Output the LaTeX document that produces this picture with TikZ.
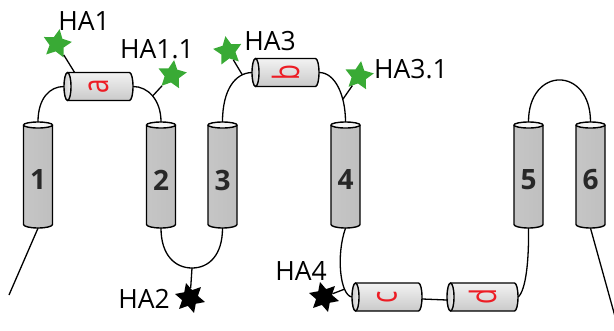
\documentclass[tikz,border=0pt]{standalone}
\usepackage{fontspec}
\usepackage{graphicx}
\setmainfont{Open Sans}
\usetikzlibrary{shapes.geometric}

\definecolor{hared}{RGB}{237,28,36}
\definecolor{hagreen}{RGB}{57,170,53}
\definecolor{digitgray}{RGB}{40,40,40}

\tikzset{
  outline/.style={draw=black, line width=1.4pt},
  link/.style={draw=black, line width=1.3pt},
  vbody/.style={rectangle, minimum width=29pt, minimum height=106pt, inner sep=0pt},
  hbody/.style={rectangle, minimum height=28pt, inner sep=0pt},
  digit/.style={font=\fontsize{28}{28}\selectfont\bfseries, text=digitgray, yshift=-5pt},
  letter/.style={font=\fontsize{36}{36}\selectfont, text=hared, rotate=90},
  hatext/.style={font=\fontsize{26.5}{26.5}\selectfont, text=black, inner sep=0pt},
  greenstar/.style={star, star points=5, star point ratio=2.0, minimum size=30pt,
                    inner sep=0pt, fill=hagreen, draw=none},
  blackstar/.style={star, star points=6, star point ratio=1.9, minimum size=31pt,
                    inner sep=0pt, fill=black, draw=none, shape border rotate=15},
}

% vertical helix: name, centre x, number
\newcommand\vhelix[3]{%
  \shade[left color=gray!45, middle color=gray!12, right color=gray!50]
    ({#2-14.5},125) -- ({#2-14.5},224.5)
    arc[start angle=180, end angle=360, x radius=14.5pt, y radius=3.5pt]
    -- ({#2+14.5},125)
    arc[start angle=0, end angle=180, x radius=14.5pt, y radius=3pt] -- cycle;
  \draw[outline] ({#2-14.5},125) -- ({#2-14.5},224.5)
    arc[start angle=180, end angle=360, x radius=14.5pt, y radius=3.5pt]
    -- ({#2+14.5},125);
  \draw[outline, fill=gray!8] ({#2},125) ellipse[x radius=14.5pt, y radius=3pt];
  \node[vbody, label={[digit]center:#3}] (#1) at ({#2},175) {};
}

% horizontal helix: name, left end x, right end x, centre y, letter
\newcommand\hhelix[5]{%
  \shade[top color=gray!10, bottom color=gray!42]
    ({#2},{#4-14}) -- ({#3},{#4-14})
    arc[start angle=90, end angle=-90, x radius=3.5pt, y radius=14pt]
    -- ({#2},{#4+14})
    arc[start angle=-90, end angle=-270, x radius=3.5pt, y radius=14pt] -- cycle;
  \draw[outline] ({#2},{#4-14}) -- ({#3},{#4-14})
    arc[start angle=90, end angle=-90, x radius=3.5pt, y radius=14pt]
    -- ({#2},{#4+14});
  \draw[outline, left color=gray!40, right color=gray!10] ({#2},{#4}) ellipse[x radius=3.5pt, y radius=14pt];
  \node[hbody, minimum width={(#3-#2+7)*1pt},
        label={[letter]center:\scalebox{0.72}[1]{#5}}] (#1) at ({(#2+#3)/2},{#4}) {};
}

\begin{document}
\begin{tikzpicture}[x=1pt, y=-1pt]
  \useasboundingbox (0,0) rectangle (614,330);

  % transmembrane helices
  \vhelix{h1}{38}{1}
  \vhelix{h2}{161}{2}
  \vhelix{h3}{222.5}{3}
  \vhelix{h4}{345.5}{4}
  \vhelix{h5}{528.5}{5}
  \vhelix{h6}{590.5}{6}

  % amphipathic helices
  \hhelix{ha}{67.5}{129.5}{86.5}{a}
  \hhelix{hb}{255.5}{315.5}{72.5}{b}
  \hhelix{hc}{355.5}{418.5}{297}{c}
  \hhelix{hd}{450.5}{514.5}{297}{d}

  % tag markers
  \node[greenstar, shape border rotate=-10] (s1) at (57,44) {};
  \node[greenstar, shape border rotate=-8] (s2) at (172,75) {};
  \node[greenstar, shape border rotate=10] (s3) at (228,51) {};
  \node[greenstar, shape border rotate=-8] (s4) at (359,76) {};
  \node[blackstar] (s5) at (190,298) {};
  \node[blackstar] (s6) at (324,297) {};

  % tag labels
  \node[hatext] (t1) at (84,21) {HA1};
  \node[hatext] (t2) at (157,49) {HA1.1};
  \node[hatext] (t3) at (270,41) {HA3};
  \node[hatext] (t4) at (411,69) {HA3.1};
  \node[hatext] (t5) at (144,299) {HA2};
  \node[hatext] (t6) at (301,271) {HA4};

  % loose termini
  \coordinate (nterm) at (9,295);
  \coordinate (cterm) at (616,320);

  % loops
  \draw[link] (nterm) -- (h1.south);
  \draw[link] (h1.north) .. controls (38,98) and (50,86.5) .. (ha.west);
  \draw[link] (ha.east) .. controls (148,86.5) and (161,100) .. (h2.north)
    coordinate[pos=0.5] (j1);
  \draw[link] (h2.south) .. controls (161,255) and (175,268) .. (192,268) coordinate (u)
    .. controls (209,268) and (222.5,255) .. (h3.south);
  \draw[link] (h3.north) .. controls (222.5,90) and (235,73) .. (hb.west)
    coordinate[pos=0.8] (j3);
  \draw[link] (hb.east) .. controls (335,72.5) and (345.5,95) .. (h4.north)
    coordinate[pos=0.7] (j4);
  \draw[link] (h4.south) .. controls (336,255) and (340,295) .. (hc.west)
    coordinate[pos=0.75] (j6);
  \draw[link] ([yshift=-2pt]hc.east) -- ([yshift=-3pt]hd.west);
  \draw[link] (hd.east) .. controls (526,290) and (529,260) .. (h5.south);
  \draw[link] (h5.north) .. controls (528.5,66) and (590.5,66) .. (h6.north);
  \draw[link] (h6.south) -- (cterm);

  % tag stalks
  \draw[link] (s1) -- ([xshift=-24pt]ha.north);
  \draw[link] (s2) -- (j1);
  \draw[link] (s3) -- (j3);
  \draw[link] (s4) -- (j4);
  \draw[link] (s5) -- (u);
  \draw[link] (s6) -- (j6);
\end{tikzpicture}
\end{document}
